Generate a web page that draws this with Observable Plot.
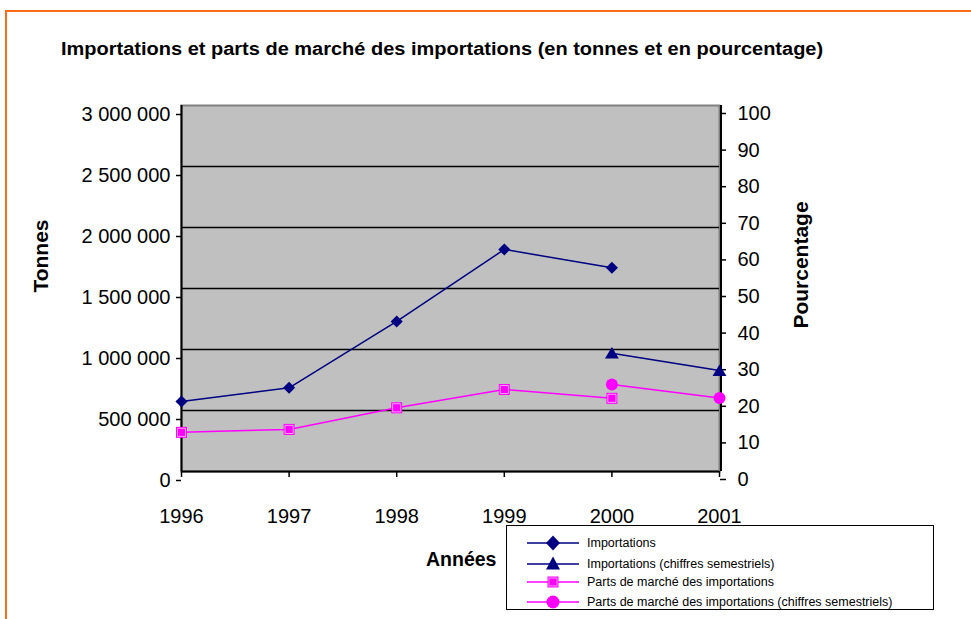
<!DOCTYPE html>
<html>
<head>
<meta charset="utf-8">
<script src="https://cdn.jsdelivr.net/npm/d3@7"></script>
<script src="https://cdn.jsdelivr.net/npm/@observablehq/plot@0.6"></script>
<style>
  html, body { margin: 0; padding: 0; background: #fff; overflow: hidden; }
  #wrap { position: relative; width: 971px; height: 619px; font-family: "Liberation Sans", Arial, sans-serif; color: #000; }
  #frame { position: absolute; left: 5px; top: 10px; width: 1000px; height: 700px; border-top: 2.5px solid #ff6c17; border-left: 2.5px solid #ff6c17; box-sizing: border-box; }
  #title { position: absolute; left: 61px; top: 39px; font-weight: bold; font-size: 18px; white-space: nowrap; transform-origin: 0 50%; }
  .axlab { position: absolute; font-weight: bold; font-size: 21px; white-space: nowrap; }
  #xlab { font-size: 19.5px; }
  #legend { position: absolute; left: 506px; top: 525px; width: 428px; height: 85px; border: 1.5px solid #000; box-sizing: border-box; background: #fff; }
  .lrow { position: absolute; left: 20px; height: 20px; display: flex; align-items: center; font-size: 12.5px; white-space: nowrap; }
  .lrow svg { margin-right: 6px; }
  #chart { position: absolute; left: 0; top: 0; }
</style>
</head>
<body>
<div id="wrap">
  <div id="frame"></div>
  <div id="chart"></div>
  <div id="title">Importations et parts de marché des importations (en tonnes et en pourcentage)</div>
  <div class="axlab" id="ylab">Tonnes</div>
  <div class="axlab" id="y2lab">Pourcentage</div>
  <div class="axlab" id="xlab">Années</div>
  <div id="legend"></div>
</div>
<script>
// ---------- data ----------
const years = [1996, 1997, 1998, 1999, 2000, 2001];
const importYears = [1996, 1997, 1998, 1999, 2000];
const importTonnes = [574000, 686000, 1230000, 1820000, 1670000];
const semYears = [2000, 2001];
const semImportTonnes = [970000, 828000];
const shareYears = [1996, 1997, 1998, 1999, 2000];
const sharePct = [10.7, 11.5, 17.4, 22.4, 20.0];
const semSharePct = [23.8, 20.1];
const leftTicks = [0, 500000, 1000000, 1500000, 2000000, 2500000, 3000000];
const rightTicks = [0, 10, 20, 30, 40, 50, 60, 70, 80, 90, 100];
const seriesNames = [
  "Importations",
  "Importations (chiffres semestriels)",
  "Parts de marché des importations",
  "Parts de marché des importations (chiffres semestriels)"
];

const NAVY = "#000080", MAG = "#ff00ff";
const PCT = 3000000 / 100; // right axis (0–100 %) mapped onto left scale

const imp = importYears.map((y, i) => ({year: y, v: importTonnes[i]}));
const semImp = semYears.map((y, i) => ({year: y, v: semImportTonnes[i]}));
const share = shareYears.map((y, i) => ({year: y, p: sharePct[i]}));
const semShare = semYears.map((y, i) => ({year: y, p: semSharePct[i]}));

const fmt = d3.formatLocale({decimal: ",", thousands: " ", grouping: [3], currency: ["", ""]}).format(",");

// rotated square (Excel-like diamond) and Excel-like triangle
const diamond = {draw(ctx, size) { const r = Math.sqrt(size) * 0.62; ctx.moveTo(0, -r); ctx.lineTo(r, 0); ctx.lineTo(0, r); ctx.lineTo(-r, 0); ctx.closePath(); }};
const tri = {draw(ctx, size) { const h = Math.sqrt(size) * 0.62; ctx.moveTo(0, -h); ctx.lineTo(h * 1.15, h * 0.9); ctx.lineTo(-h * 1.15, h * 0.9); ctx.closePath(); }};

const chart = Plot.plot({
  width: 971, height: 619,
  marginLeft: 181, marginRight: 252, marginTop: 105, marginBottom: 148,
  x: {domain: [1996, 2001]},
  y: {domain: [0, 3000000]},
  style: {fontFamily: '"Liberation Sans", Arial, sans-serif', fontSize: "20px", color: "#000", background: "transparent", overflow: "visible"},
  marks: [
    Plot.frame({fill: "#c0c0c0", stroke: "#808080", strokeWidth: 2}),
    Plot.ruleY(leftTicks.slice(1, -1), {stroke: "#000", strokeWidth: 1.5}),
    Plot.ruleX([1996], {stroke: "#000", strokeWidth: 2}),
    Plot.ruleX([2001], {stroke: "#000", strokeWidth: 2, dx: 1.5}),
    Plot.ruleY([0], {stroke: "#000", strokeWidth: 2}),
    Plot.axisY({ticks: leftTicks, tickFormat: fmt, tickSize: 5, tickPadding: 6, dy: 9, label: null, strokeWidth: 1.5}),
    Plot.axisY({anchor: "right", ticks: rightTicks.map(t => t * PCT), tickFormat: d => String(Math.round(d / PCT)), tickSize: 6, tickPadding: 12, dy: 8, label: null, strokeWidth: 1.5}),
    Plot.axisX({ticks: years, tickFormat: d => String(d), tickSize: 6, tickPadding: 31, label: null, strokeWidth: 1.5}),
    Plot.line(imp, {x: "year", y: "v", stroke: NAVY, strokeWidth: 1.5}),
    Plot.line(semImp, {x: "year", y: "v", stroke: NAVY, strokeWidth: 1.5}),
    Plot.line(share, {x: "year", y: d => d.p * PCT, stroke: MAG, strokeWidth: 1.5}),
    Plot.line(semShare, {x: "year", y: d => d.p * PCT, stroke: MAG, strokeWidth: 1.5}),
    Plot.dot(imp, {x: "year", y: "v", symbol: diamond, r: 5.5, fill: NAVY, stroke: null}),
    Plot.dot(semImp, {x: "year", y: "v", symbol: tri, r: 5.5, fill: NAVY, stroke: null}),
    Plot.dot(share, {x: "year", y: d => d.p * PCT, symbol: "square", r: 6.2, fill: MAG, stroke: null}),
    Plot.dot(share, {x: "year", y: d => d.p * PCT, symbol: "square", r: 4.6, fill: "none", stroke: "#ffb0ff", strokeWidth: 0.9}),
    Plot.dot(semShare, {x: "year", y: d => d.p * PCT, symbol: "circle", r: 6, fill: MAG, stroke: null})
  ]
});
document.getElementById("chart").appendChild(chart);

// ---------- titles ----------
function place(id, cx, cy, rot) {
  const el = document.getElementById(id);
  const w = el.offsetWidth, h = el.offsetHeight;
  el.style.left = (cx - w / 2) + "px";
  el.style.top = (cy - h / 2) + "px";
  if (rot) el.style.transform = "rotate(-90deg)";
}
const titleEl = document.getElementById("title");
titleEl.style.transform = `scaleX(${762 / titleEl.offsetWidth})`;
place("ylab", 40, 256, true);
place("y2lab", 800, 265, true);
place("xlab", 461, 559, false);

// ---------- legend ----------
const legendStyles = [
  {color: NAVY, sym: "diamond"},
  {color: NAVY, sym: "triangle"},
  {color: MAG, sym: "square"},
  {color: MAG, sym: "circle"}
];
const rowTops = [7, 28, 46, 66];
const legend = document.getElementById("legend");
seriesNames.forEach((name, i) => {
  const s = legendStyles[i];
  const row = document.createElement("div");
  row.className = "lrow";
  row.style.top = rowTops[i] + "px";
  let m = "";
  if (s.sym === "diamond") m = `<path d="M26,2.5 L33,10 L26,17.5 L19,10 Z" fill="${s.color}"/>`;
  if (s.sym === "triangle") m = `<path d="M26,2.5 L33,15.5 L19,15.5 Z" fill="${s.color}"/>`;
  if (s.sym === "square") m = `<rect x="20.5" y="4.5" width="11" height="11" fill="${s.color}"/><rect x="22" y="6" width="8" height="8" fill="none" stroke="#ffb0ff" stroke-width="0.8"/>`;
  if (s.sym === "circle") m = `<circle cx="26" cy="10" r="6.5" fill="${s.color}"/>`;
  row.innerHTML = `<svg width="54" height="20"><line x1="0" y1="10" x2="52" y2="10" stroke="${s.color}" stroke-width="1.5"/>${m}</svg><span>${name}</span>`;
  legend.appendChild(row);
});
</script>
</body>
</html>
